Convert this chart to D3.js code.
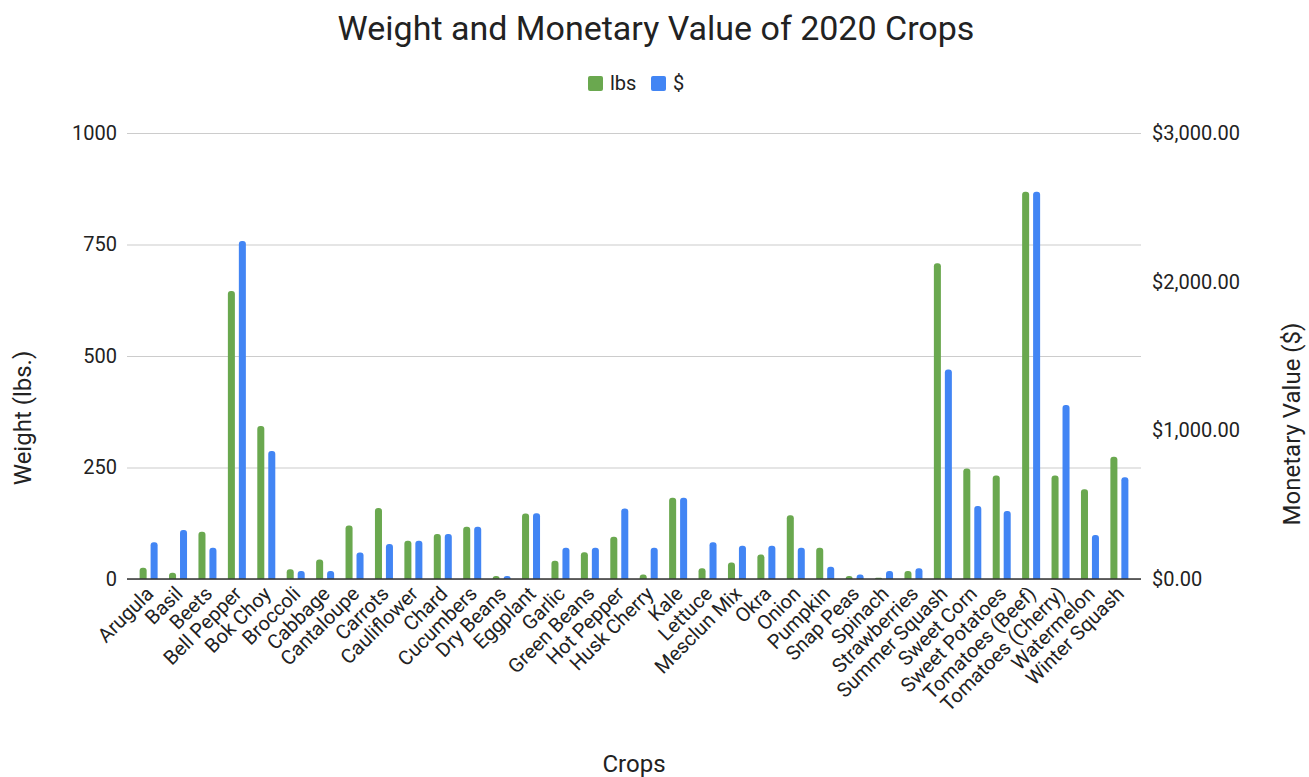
<!DOCTYPE html>
<html>
<head>
<meta charset="utf-8">
<script src="https://cdn.jsdelivr.net/npm/d3@7"></script>
<style>
  body { margin: 0; background: #fff; }
  svg { font-family: Roboto, "Noto Sans", sans-serif; }
</style>
</head>
<body>
<svg id="chart" width="1309" height="777"></svg>
<script>
// crops and the two series
const crops = [
    "Arugula", "Basil", "Beets", "Bell Pepper", "Bok Choy", "Broccoli", "Cabbage",
    "Cantaloupe", "Carrots", "Cauliflower", "Chard", "Cucumbers", "Dry Beans",
    "Eggplant", "Garlic", "Green Beans", "Hot Pepper", "Husk Cherry", "Kale",
    "Lettuce", "Mesclun Mix", "Okra", "Onion", "Pumpkin", "Snap Peas", "Spinach",
    "Strawberries", "Summer Squash", "Sweet Corn", "Sweet Potatoes",
    "Tomatoes (Beef)", "Tomatoes (Cherry)", "Watermelon", "Winter Squash"
];
const lbs = [
    25, 14, 106, 646, 343, 22, 44,
    120, 159, 86, 101, 117, 7,
    147, 41, 60, 95, 10, 182,
    24, 37, 55, 143, 70, 7, 3,
    18, 708, 248, 232,
    868, 232, 201, 274
];
const dollars = [
    247, 330, 211, 2273, 861, 54, 54,
    179, 235, 258, 303, 352, 20,
    442, 211, 211, 475, 211, 547,
    247, 224, 224, 211, 83, 31, 54,
    72, 1410, 491, 457,
    2605, 1170, 296, 684
];
const lbsTicks = [0, 250, 500, 750, 1000];
const dollarTicks = [0, 1000, 2000, 3000];
const seriesKeys = ["lbs", "$"];

const colors = { "lbs": "#6aa84f", "$": "#4285f4" };
const plot = { left: 127, right: 1141, top: 133, bottom: 579 };
const textColor = "#222";

const svg = d3.select("#chart");

const x0 = d3.scaleBand()
    .domain(crops)
    .range([plot.left, plot.right])
    .paddingInner(0)
    .paddingOuter(0.235);
const x1 = d3.scaleBand()
    .domain(seriesKeys)
    .range([0, x0.bandwidth()])
    .paddingInner(0.36)
    .paddingOuter(0.52);
const yL = d3.scaleLinear().domain([0, 1000]).range([plot.bottom, plot.top]);
const yR = d3.scaleLinear().domain([0, 3000]).range([plot.bottom, plot.top]);

// title
svg.append("text")
    .attr("x", 656).attr("y", 40)
    .attr("text-anchor", "middle")
    .attr("font-size", 34)
    .attr("fill", textColor)
    .text("Weight and Monetary Value of 2020 Crops");

// legend
const legend = svg.append("g").attr("transform", "translate(588,76)");
const legendItems = [
    { key: "lbs", label: "lbs", dx: 0 },
    { key: "$", label: "$", dx: 63 }
];
legendItems.forEach(it => {
    const g = legend.append("g").attr("transform", `translate(${it.dx},0)`);
    g.append("rect").attr("width", 15).attr("height", 15).attr("rx", 2)
        .attr("fill", colors[it.key]);
    g.append("text").attr("x", 22).attr("y", 14)
        .attr("font-size", 20).attr("fill", textColor)
        .text(it.label);
});

// gridlines + left axis
const leftAxis = d3.axisLeft(yL)
    .tickValues(lbsTicks)
    .tickSize(-(plot.right - plot.left))
    .tickPadding(10)
    .tickFormat(d3.format("d"));
svg.append("g")
    .attr("transform", `translate(${plot.left},0)`)
    .call(leftAxis)
    .call(g => g.select(".domain").remove())
    .call(g => g.selectAll(".tick line").attr("stroke", "#cccccc").attr("stroke-width", 1.2))
    .call(g => g.selectAll(".tick text")
        .attr("font-size", 20).attr("fill", textColor)
        .attr("font-family", "Roboto, sans-serif"));

// right axis
const rightAxis = d3.axisRight(yR)
    .tickValues(dollarTicks)
    .tickSize(0)
    .tickPadding(11)
    .tickFormat(d3.format("$,.2f"));
svg.append("g")
    .attr("transform", `translate(${plot.right},0)`)
    .call(rightAxis)
    .call(g => g.select(".domain").remove())
    .call(g => g.selectAll(".tick text")
        .attr("font-size", 20).attr("fill", textColor)
        .attr("font-family", "Roboto, sans-serif"));

// bars with rounded tops
function barPath(x, w, y0, y1, r) {
    const h = y0 - y1;
    const rr = Math.min(r, h, w / 2);
    return `M${x},${y0}V${y1 + rr}Q${x},${y1} ${x + rr},${y1}H${x + w - rr}Q${x + w},${y1} ${x + w},${y1 + rr}V${y0}Z`;
}

const rows = crops.map((c, i) => ({ crop: c, lbs: lbs[i], "$": dollars[i] }));
const groups = svg.append("g").attr("class", "bars")
    .selectAll("g")
    .data(rows)
    .join("g")
    .attr("transform", d => `translate(${x0(d.crop)},0)`);
groups.selectAll("path")
    .data(d => seriesKeys.map(k => ({ key: k, value: d[k] })))
    .join("path")
    .attr("fill", d => colors[d.key])
    .attr("d", d => {
        const y = d.key === "lbs" ? yL(d.value) : yR(d.value);
        return barPath(x1(d.key), x1.bandwidth(), plot.bottom, y, 3);
    });

// baseline
svg.append("line")
    .attr("x1", plot.left).attr("x2", plot.right)
    .attr("y1", plot.bottom).attr("y2", plot.bottom)
    .attr("stroke", "#333").attr("stroke-width", 1.5);

// x labels, rotated
const xAxis = d3.axisBottom(x0).tickSize(0).tickPadding(0);
svg.append("g")
    .attr("transform", `translate(0,${plot.bottom})`)
    .call(xAxis)
    .call(g => g.select(".domain").remove())
    .call(g => g.selectAll(".tick text")
        .attr("font-size", 20).attr("fill", textColor)
        .attr("font-family", "Roboto, sans-serif")
        .attr("text-anchor", "end")
        .attr("dy", null)
        .attr("y", 0)
        .attr("transform", "translate(6,16) rotate(-45)"));

// axis titles
svg.append("text")
    .attr("transform", "translate(31,418) rotate(-90)")
    .attr("text-anchor", "middle")
    .attr("font-size", 24).attr("fill", textColor)
    .text("Weight (lbs.)");
svg.append("text")
    .attr("transform", "translate(1300,424) rotate(-90)")
    .attr("text-anchor", "middle")
    .attr("font-size", 24).attr("fill", textColor)
    .text("Monetary Value ($)");
svg.append("text")
    .attr("x", 634).attr("y", 772)
    .attr("text-anchor", "middle")
    .attr("font-size", 24).attr("fill", textColor)
    .text("Crops");
</script>
</body>
</html>
